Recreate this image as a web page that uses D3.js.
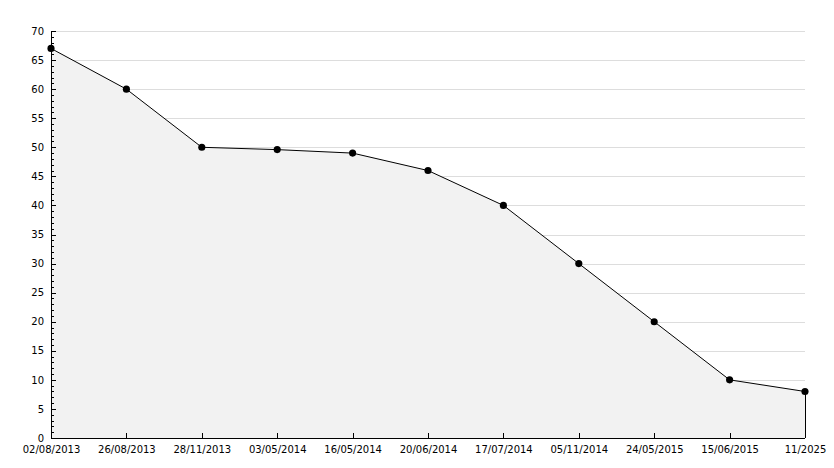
<!DOCTYPE html>
<html>
<head>
<meta charset="utf-8">
<script src="https://cdn.jsdelivr.net/npm/d3@7"></script>
<style>
  body { margin: 0; background: #fff; }
  text { font-family: "DejaVu Sans", Verdana, sans-serif; font-size: 10px; fill: #000; }
</style>
</head>
<body>
<div class="chart"></div>
<script>
// DATA ------------------------------
const dates = ["02/08/2013", "26/08/2013", "28/11/2013", "03/05/2014", "16/05/2014",
  "20/06/2014", "17/07/2014", "05/11/2014", "24/05/2015", "15/06/2015", "11/2025"]
const values = [67, 60, 50, 49.6, 49, 46, 40, 30, 20, 10, 8]
const yTicks = d3.range(0, 71, 5)

// MARGIN CONVENTION
const margin = ({top: 31, right: 29, bottom: 30, left: 51})
const width = 834 - margin.left - margin.right,
  height = 468 - margin.top - margin.bottom

const svg = d3.select(".chart")
  .append("svg")
  .attr("width", width + margin.left + margin.right)
  .attr("height", height + margin.top + margin.bottom)
  .append("g")
  .attr("transform", "translate(" + margin.left + "," + margin.top + ")")

let xScale = d3.scalePoint()
  .domain(dates)
  .range([0, width])
let yScale = d3.scaleLinear()
  .domain([0, 70])
  .range([height, 0])

const data = dates.map((d, i) => ({date: d, value: values[i]}))

// grid lines
svg.append("g")
  .selectAll("line")
  .data(yTicks.filter(d => d > 0))
  .join("line")
  .attr("x1", 0)
  .attr("x2", width)
  .attr("y1", d => Math.round(yScale(d)) + 0.5)
  .attr("y2", d => Math.round(yScale(d)) + 0.5)
  .attr("stroke", "#dddddd")

// area
let area = d3.area()
  .x(d => xScale(d.date))
  .y0(height)
  .y1(d => yScale(d.value))
svg.append("path")
  .datum(data)
  .attr("d", area)
  .attr("fill", "#f2f2f2")

// line + right edge
let line = d3.line()
  .x(d => xScale(d.date))
  .y(d => yScale(d.value))
svg.append("path")
  .datum(data)
  .attr("d", line)
  .attr("fill", "none")
  .attr("stroke", "#000")
  .attr("stroke-width", 1)
svg.append("line")
  .attr("x1", xScale(dates[dates.length - 1]) + 0.5)
  .attr("x2", xScale(dates[dates.length - 1]) + 0.5)
  .attr("y1", yScale(values[values.length - 1]))
  .attr("y2", height)
  .attr("stroke", "#000")

// y axis with minor ticks (inward)
let yMinor = d3.axisRight(yScale).tickValues(d3.range(0, 71, 1)).tickSize(3).tickFormat("")
svg.append("g").attr("class", "axis").call(yMinor)
  .call(g => g.select(".domain").remove())
let yAxis = d3.axisRight(yScale).tickValues(yTicks).tickSize(5).tickFormat(d3.format("d"))
svg.append("g")
  .attr("class", "axis y-axis")
  .call(yAxis)
  .call(g => g.select(".domain").attr("d", `M0.5,0V${height}`))
  .call(g => g.selectAll(".tick text").attr("x", -7).attr("text-anchor", "end"))

// x axis (ticks inward)
let xAxis = d3.axisTop(xScale).tickSize(5).tickSizeOuter(0)
svg.append("g")
  .attr("class", "axis x-axis")
  .attr("transform", `translate(0, ${height})`)
  .call(xAxis)
  .call(g => g.select(".domain").attr("d", `M0,0.5H${width}`))
  .call(g => g.selectAll(".tick text").attr("y", 8).attr("dy", "0.71em"))

svg.selectAll(".axis line, .axis path").attr("stroke", "#000").attr("shape-rendering", "crispEdges")
svg.selectAll(".axis text").attr("fill", "#000").style("font-size", "10px").style("font-family", "DejaVu Sans")

// markers
svg.selectAll(".dot")
  .data(data)
  .join("path")
  .attr("class", "dot")
  .attr("transform", d => `translate(${xScale(d.date)},${yScale(d.value)})`)
  .attr("d", d3.symbol(d3.symbolCircle, 40))
  .attr("fill", "#000")
</script>
</body>
</html>
